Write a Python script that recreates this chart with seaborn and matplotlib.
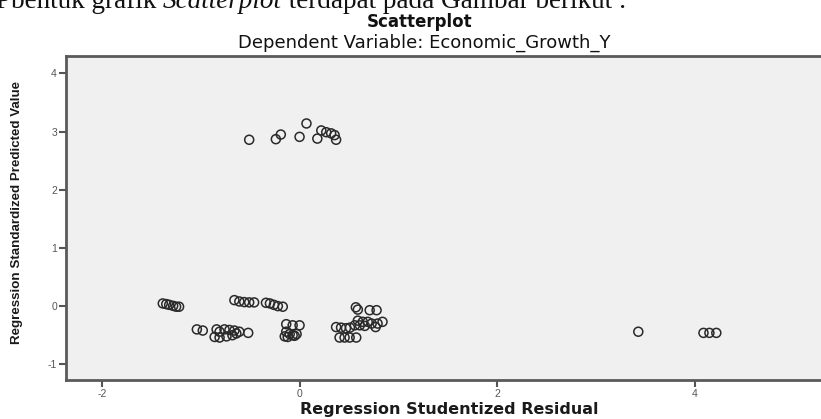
import matplotlib
matplotlib.use("Agg")
import matplotlib.pyplot as plt
from matplotlib import font_manager
import seaborn as sns
import pandas as pd

# ---- data ----
resid_x = [
    # upper group
    -0.51, -0.24, -0.19, 0.00, 0.07, 0.18, 0.22, 0.27, 0.32, 0.355, 0.37,
    # left group near 0
    -1.385, -1.35, -1.32, -1.28, -1.25, -1.22,
    -0.66, -0.61, -0.56, -0.51, -0.46,
    -0.34, -0.30, -0.26, -0.22, -0.17,
    # bottom left group
    -1.04, -0.98, -0.84, -0.81, -0.76, -0.71, -0.66, -0.61, -0.52,
    -0.86, -0.81, -0.74, -0.68, -0.64,
    # group near x=0
    -0.135, -0.07, 0.00, -0.135, -0.10, -0.07, -0.03, -0.15, -0.12, -0.05,
    # group right of 0
    0.57, 0.59, 0.71, 0.78,
    0.37, 0.42, 0.47, 0.51, 0.56, 0.59, 0.64, 0.69, 0.73, 0.77, 0.79, 0.84,
    0.61, 0.66,
    0.405, 0.456, 0.507, 0.574,
    # outliers
    3.43, 4.09, 4.15, 4.22,
]
pred_y = [
    2.86, 2.87, 2.95, 2.91, 3.14, 2.88, 3.02, 2.99, 2.97, 2.94, 2.86,
    0.046, 0.035, 0.022, 0.005, -0.01, -0.01,
    0.103, 0.08, 0.069, 0.064, 0.064,
    0.057, 0.046, 0.022, 0.00, -0.01,
    -0.40, -0.42, -0.40, -0.44, -0.40, -0.41, -0.42, -0.44, -0.46,
    -0.53, -0.54, -0.52, -0.50, -0.47,
    -0.31, -0.33, -0.33, -0.44, -0.48, -0.50, -0.48, -0.52, -0.53, -0.51,
    -0.02, -0.06, -0.07, -0.07,
    -0.36, -0.37, -0.38, -0.37, -0.33, -0.25, -0.27, -0.27, -0.30, -0.36, -0.30, -0.27,
    -0.33, -0.34,
    -0.54, -0.54, -0.54, -0.54,
    -0.44, -0.46, -0.46, -0.46,
]
x_ticks = [-2, 0, 2, 4]
y_ticks = [-1, 0, 1, 2, 3, 4]

df = pd.DataFrame({"resid": resid_x, "pred": pred_y})

sns.set_theme(style="white")
plt.rcParams["font.family"] = ["Liberation Sans", "DejaVu Sans"]

installed = {f.name for f in font_manager.fontManager.ttflist}

fig = plt.figure(figsize=(8.21, 4.19), dpi=100)
ax = fig.add_axes([66 / 821, 39 / 419, 1 - 66 / 821, (380 - 56) / 419])
ax.set_facecolor("#f0f0f0")

sns.scatterplot(data=df, x="resid", y="pred", ax=ax, s=42,
                facecolor="none", edgecolor="#2a2a2a", linewidth=1.1,
                legend=False)

ax.set_xlim(-2.365, 5.28)
ax.set_ylim(-1.27, 4.30)
ax.set_xticks(x_ticks)
ax.set_yticks(y_ticks)
ax.set_xticklabels([str(v) for v in x_ticks])
ax.set_yticklabels([str(v) for v in y_ticks])
ax.tick_params(axis="both", which="major", direction="out", length=5,
               width=1.5, color="#555555", labelsize=7.5, labelcolor="#555555",
               left=True, bottom=True, pad=1.5)

for side in ["left", "bottom", "top"]:
    ax.spines[side].set_visible(True)
    ax.spines[side].set_color("#5a5a5a")
    ax.spines[side].set_linewidth(2)
ax.spines["right"].set_visible(False)

ax.set_xlabel("")
ax.set_ylabel("")

wide = ["DejaVu Sans", "Liberation Sans"]

# axis labels
fig.text(449 / 821, 1 - 409 / 419, "Regression Studentized Residual",
         ha="center", va="center", fontsize=11.5, fontweight="bold",
         color="#1a1a1a", family=wide)
if "Liberation Sans Narrow" in installed:
    ylab_family, ylab_size = ["Liberation Sans Narrow", "DejaVu Sans"], 11
else:
    ylab_family, ylab_size = ["Liberation Sans", "DejaVu Sans"], 9.6
fig.text(17 / 821, 1 - 213 / 419, "Regression Standardized Predicted Value",
         ha="center", va="center", rotation=90, fontsize=ylab_size,
         fontweight="bold", color="#1a1a1a", family=ylab_family)

# titles
fig.text(420 / 821, 1 - 22 / 419, "Scatterplot", ha="center", va="center",
         fontsize=12, fontweight="bold", color="#111111", family=wide)
fig.text(424 / 821, 1 - 43 / 419, "Dependent Variable: Economic_Growth_Y",
         ha="center", va="center", fontsize=13, color="#111111", family=wide)

# cut-off line of text at the very top of the page
fig.canvas.draw()
renderer = fig.canvas.get_renderer()
y_base = 1 - 8 / 419
x0 = -4 / 821
parts = [("Pbentuk grafik ", "normal"), ("Scatterplot", "italic"),
         (" terdapat pada Gambar berikut :", "normal")]
for txt, style in parts:
    t = fig.text(x0, y_base, txt, ha="left", va="baseline", fontsize=19.5,
                 style=style, color="#111111",
                 family=["Liberation Serif", "DejaVu Serif"])
    bb = t.get_window_extent(renderer=renderer)
    x0 = bb.x1 / fig.bbox.width

fig.savefig("out.png", dpi=100)
